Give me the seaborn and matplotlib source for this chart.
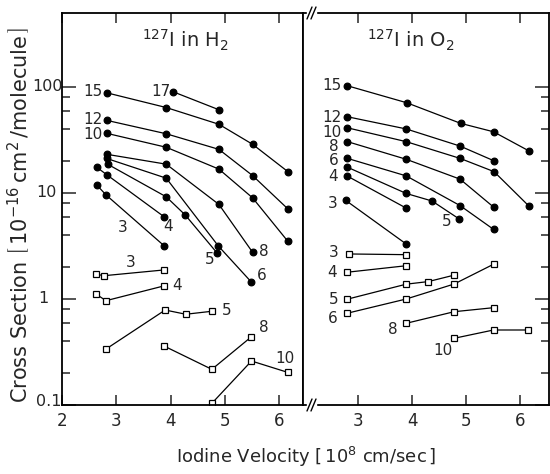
import matplotlib
matplotlib.use("Agg")
import matplotlib.pyplot as plt
from matplotlib.ticker import FixedLocator, NullFormatter
from matplotlib.lines import Line2D
import pandas as pd
import seaborn as sns

# ---------------- 127I in H2 : charge-state cross sections (filled) ----------------
h2_v15 = [2.83, 3.92, 4.89, 5.51, 6.16]
h2_q15 = [88, 64, 44.5, 28.8, 15.9]
h2_v17 = [4.05, 4.89]
h2_q17 = [90, 61]
h2_v12 = [2.82, 3.92, 4.89, 5.51, 6.17]
h2_q12 = [48.5, 36.2, 25.8, 14.6, 7.0]
h2_v10 = [2.82, 3.92, 4.89, 5.51, 6.16]
h2_q10 = [36.6, 27.0, 16.8, 9.0, 3.5]
h2_v8 = [2.82, 3.92, 4.89, 5.51]
h2_q8 = [23.2, 18.7, 7.8, 2.76]
h2_v6 = [2.82, 3.92, 4.88, 5.49]
h2_q6 = [21.2, 13.8, 3.16, 1.44]
h2_v5 = [2.84, 3.92, 4.27, 4.85]
h2_q5 = [18.7, 9.2, 6.2, 2.74]
h2_v4 = [2.64, 2.83, 3.88]
h2_q4 = [17.5, 14.8, 5.97]
h2_v3 = [2.64, 2.81, 3.88]
h2_q3 = [11.9, 9.6, 3.18]

# ---------------- 127I in H2 : open squares ----------------
h2o_v3 = [2.63, 2.78, 3.88]
h2o_q3 = [1.71, 1.66, 1.88]
h2o_v4 = [2.63, 2.81, 3.88]
h2o_q4 = [1.11, 0.964, 1.33]
h2o_v5 = [2.81, 3.90, 4.28, 4.76]
h2o_q5 = [0.337, 0.787, 0.718, 0.766]
h2o_v8 = [3.88, 4.76, 5.49]
h2o_q8 = [0.360, 0.217, 0.441]
h2o_v10 = [4.77, 5.49, 6.16]
h2o_q10 = [0.105, 0.26, 0.203]

# ---------------- 127I in O2 : filled ----------------
o2_v15 = [2.79, 3.90, 4.90, 5.51, 6.17]
o2_q15 = [103, 71, 45.4, 37.8, 24.9]
o2_v12 = [2.79, 3.89, 4.89, 5.52]
o2_q12 = [52.5, 40.2, 27.7, 20.1]
o2_v10 = [2.79, 3.89, 4.89, 5.52, 6.17]
o2_q10 = [41.3, 30.5, 21.2, 15.9, 7.5]
o2_v8 = [2.80, 3.89, 4.89, 5.52]
o2_q8 = [30.5, 20.8, 13.5, 7.3]
o2_v6 = [2.80, 3.89, 4.89, 5.51]
o2_q6 = [21.2, 14.5, 7.6, 4.54]
o2_v5 = [2.80, 3.89, 4.37, 4.87]
o2_q5 = [17.5, 9.9, 8.4, 5.7]
o2_v4 = [2.79, 3.89]
o2_q4 = [14.5, 7.2]
o2_v3 = [2.77, 3.89]
o2_q3 = [8.5, 3.3]

# ---------------- 127I in O2 : open squares ----------------
o2o_v3 = [2.82, 3.89]
o2o_q3 = [2.66, 2.62]
o2o_v4 = [2.80, 3.89]
o2o_q4 = [1.79, 2.06]
o2o_v5 = [2.79, 3.89, 4.30, 4.78]
o2o_q5 = [0.994, 1.38, 1.46, 1.68]
o2o_v6 = [2.79, 3.89, 4.78, 5.52]
o2o_q6 = [0.733, 1.0, 1.385, 2.14]
o2o_v8 = [3.89, 4.78, 5.51]
o2o_q8 = [0.59, 0.759, 0.828]
o2o_v10 = [4.78, 5.51, 6.15]
o2o_q10 = [0.426, 0.51, 0.51]

y_major = [0.1, 1, 10, 100]
y_major_labels = ["0.1", "1", "10", "100"]
y_minor = [0.2, 0.4, 0.6, 0.8, 2, 4, 6, 8, 20, 40, 60, 80]
x_ticks_h2 = [2, 3, 4, 5, 6]
x_ticks_o2 = [3, 4, 5, 6]

sns.set_style("ticks")
plt.rcParams["font.family"] = ["DejaVu Sans"]
plt.rcParams["mathtext.fontset"] = "dejavusans"

W, H = 550, 474
fig = plt.figure(figsize=(W / 100, H / 100), dpi=100)
fig.patch.set_facecolor("white")


def box(x0, x1, y0, y1):
    return [x0 / W, 1 - y1 / H, (x1 - x0) / W, (y1 - y0) / H]


axL = fig.add_axes(box(62, 303.3, 13, 405))
axR = fig.add_axes(box(303.3, 548.5, 13, 405))


def series(ax, v, q, filled, label, anchor, dx, dy):
    df = pd.DataFrame({"v": v, "q": q})
    sns.lineplot(
        data=df, x="v", y="q", ax=ax, sort=False, estimator=None,
        color="black", linewidth=0.9,
        marker="o" if filled else "s",
        markersize=4.8 if filled else 5.0,
        markerfacecolor="black" if filled else "white",
        markeredgecolor="black", markeredgewidth=0.9,
    )
    i = 0 if anchor == "first" else -1
    ax.annotate(label, xy=(v[i], q[i]), xytext=(dx, -dy),
                textcoords="offset pixels", ha="center", va="center",
                fontsize=11, annotation_clip=False)


# H2 panel
series(axL, h2_v15, h2_q15, True, "15", "first", -14, -1)
series(axL, h2_v17, h2_q17, True, "17", "first", -12, 0)
series(axL, h2_v12, h2_q12, True, "12", "first", -14, -1)
series(axL, h2_v10, h2_q10, True, "10", "first", -14, 1)
series(axL, h2_v8, h2_q8, True, "8", "last", 11, -1)
series(axL, h2_v6, h2_q6, True, "6", "last", 10, -7)
series(axL, h2_v5, h2_q5, True, "5", "last", -7, 7)
series(axL, h2_v4, h2_q4, True, "4", "last", 4, 10)
series(axL, h2_v3, h2_q3, True, "3", "last", -41, -18)
series(axL, h2o_v3, h2o_q3, False, "3", "last", -33, -7)
series(axL, h2o_v4, h2o_q4, False, "4", "last", 13, 0)
series(axL, h2o_v5, h2o_q5, False, "5", "last", 15, -1)
series(axL, h2o_v8, h2o_q8, False, "8", "last", 12, -9)
series(axL, h2o_v10, h2o_q10, False, "10", "last", -3, -14)

# O2 panel
series(axR, o2_v15, o2_q15, True, "15", "first", -15, 0)
series(axR, o2_v12, o2_q12, True, "12", "first", -15, 1)
series(axR, o2_v10, o2_q10, True, "10", "first", -15, 5)
series(axR, o2_v8, o2_q8, True, "8", "first", -14, 5)
series(axR, o2_v6, o2_q6, True, "6", "first", -14, 2)
series(axR, o2_v5, o2_q5, True, "5", "last", -12, 3)
series(axR, o2_v4, o2_q4, True, "4", "first", -14, 1)
series(axR, o2_v3, o2_q3, True, "3", "first", -13, 3)
series(axR, o2o_v3, o2o_q3, False, "3", "first", -15, -1)
series(axR, o2o_v4, o2o_q4, False, "4", "first", -15, 0)
series(axR, o2o_v5, o2o_q5, False, "5", "first", -13, 0)
series(axR, o2o_v6, o2o_q6, False, "6", "first", -14, 5)
series(axR, o2o_v8, o2o_q8, False, "8", "first", -13, 6)
series(axR, o2o_v10, o2o_q10, False, "10", "first", -11, 12)

for ax in (axL, axR):
    ax.set_yscale("log")
    ax.set_ylim(0.1, 499)
    ax.set_xlabel("")
    ax.set_ylabel("")
    ax.set_yticks(y_major)
    ax.set_yticklabels([])
    ax.yaxis.set_minor_locator(FixedLocator(y_minor))
    ax.yaxis.set_minor_formatter(NullFormatter())
    ax.xaxis.set_minor_locator(FixedLocator([]))
    for s in ax.spines.values():
        s.set_visible(True)
        s.set_linewidth(1.3)
        s.set_color("black")
    ax.tick_params(axis="x", which="major", direction="in", length=7, width=1.1,
                   top=True, bottom=True, labelsize=12, pad=5)
    ax.tick_params(axis="y", which="major", direction="in", length=10, width=1.1)
    ax.tick_params(axis="y", which="minor", direction="in", length=6, width=1.1)

axL.set_xlim(2, 6.444)
axR.set_xlim(1.98, 6.53)
axL.set_xticks(x_ticks_h2)
axL.set_xticklabels([str(t) for t in x_ticks_h2])
axR.set_xticks(x_ticks_o2)
axR.set_xticklabels([str(t) for t in x_ticks_o2])

axL.tick_params(axis="y", which="both", left=True, right=False)
axR.tick_params(axis="y", which="both", left=False, right=True)

# y tick labels of the log axis, centred in the margin beside the H2 panel
label_shift = [(-13, 3), (-19, 0), (-16, 0), (-14, 0)]
for val, txt, (sx, sy) in zip(y_major, y_major_labels, label_shift):
    axL.annotate(txt, xy=(0, val), xycoords=("axes fraction", "data"),
                 xytext=(sx, sy), textcoords="offset pixels",
                 ha="center", va="center", fontsize=11.5, annotation_clip=False)

axL.text(0.51, 0.93, r"$^{127}$I in H$_2$", transform=axL.transAxes,
         ha="center", va="center", fontsize=14)
axR.text(0.44, 0.93, r"$^{127}$I in O$_2$", transform=axR.transAxes,
         ha="center", va="center", fontsize=14)

fig.text(19 / W, 1 - 215 / H,
         r"Cross Section $\left[\,10^{-16}\,\mathrm{cm}^{2}\,/\mathrm{molecule}\,\right]$",
         rotation=90, ha="center", va="center", fontsize=15)
fig.text(306 / W, 1 - 457 / H,
         r"Iodine Velocity $\left[\,10^{8}\ \mathrm{cm/sec}\,\right]$",
         ha="center", va="center", fontsize=13)

# axis-break marks on the panel divider
for yb in (405, 13):
    fig.add_artist(plt.Rectangle((307 / W, 1 - (yb + 2) / H), 9 / W, 4 / H,
                                 transform=fig.transFigure, color="white", zorder=5))
    for x0 in (307, 311):
        fig.add_artist(Line2D([x0 / W, (x0 + 5) / W], [1 - (yb + 6) / H, 1 - (yb - 6) / H],
                              transform=fig.transFigure, color="black", lw=1.0, zorder=6))

fig.savefig("out.png", dpi=100)
